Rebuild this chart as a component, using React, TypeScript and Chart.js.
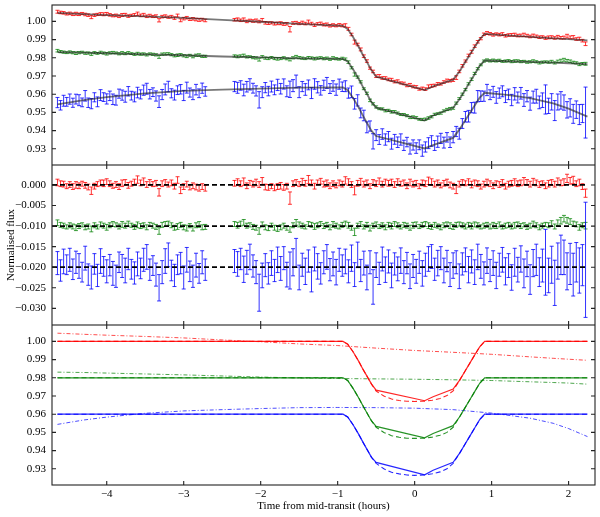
import { useEffect, useRef } from "react";
import { Chart, registerables, type ChartConfiguration, type Plugin } from "chart.js";

Chart.register(...registerables);

Chart.defaults.font.family = "'Liberation Serif', 'Times New Roman', serif";
Chart.defaults.font.size = 11;
Chart.defaults.color = "#000";

// time of each exposure (hours from mid-transit)
const times = [
  -4.64, -4.6, -4.56, -4.52, -4.48, -4.44, -4.4, -4.36, -4.32, -4.28,
  -4.24, -4.2, -4.16, -4.12, -4.08, -4.04, -4.0, -3.96, -3.92, -3.88,
  -3.84, -3.8, -3.76, -3.72, -3.68, -3.64, -3.6, -3.56, -3.52, -3.48,
  -3.44, -3.4, -3.36, -3.32, -3.28, -3.24, -3.2, -3.16, -3.12, -3.08,
  -3.04, -3.0, -2.96, -2.92, -2.88, -2.84, -2.8, -2.76, -2.72,
  -2.34, -2.3, -2.26, -2.22, -2.18, -2.14, -2.1, -2.06, -2.02, -1.98,
  -1.94, -1.9, -1.86, -1.82, -1.78, -1.74, -1.7, -1.66, -1.62, -1.58,
  -1.54, -1.5, -1.46, -1.42, -1.38, -1.34, -1.3, -1.26, -1.22, -1.18,
  -1.14, -1.1, -1.06, -1.02, -0.98, -0.94, -0.9, -0.86, -0.82, -0.78,
  -0.74, -0.7, -0.66, -0.62, -0.58, -0.54, -0.5, -0.46, -0.42, -0.38,
  -0.34, -0.3, -0.26, -0.22, -0.18, -0.14, -0.1, -0.06, -0.02, 0.02,
  0.06, 0.1, 0.14, 0.18, 0.22, 0.26, 0.3, 0.34, 0.38, 0.42,
  0.46, 0.5, 0.54, 0.58, 0.62, 0.66, 0.7, 0.74, 0.78, 0.82,
  0.86, 0.9, 0.94, 0.98, 1.02, 1.06, 1.1, 1.14, 1.18, 1.22,
  1.26, 1.3, 1.34, 1.38, 1.42, 1.46, 1.5, 1.54, 1.58, 1.62,
  1.66, 1.7, 1.74, 1.78, 1.82, 1.86, 1.9, 1.94, 1.98, 2.02,
  2.06, 2.1, 2.14, 2.18, 2.22,
];

// normalised flux, top panel
const redFlux = [
  1.0053, 1.0049, 1.0047, 1.0041, 1.0044, 1.0039, 1.0042, 1.0039, 1.0043, 1.0038,
  1.0034, 1.0024, 1.0034, 1.0038, 1.0041, 1.0039, 1.0042, 1.0036, 1.0031, 1.0033,
  1.0028, 1.0035, 1.0037, 1.0029, 1.0033, 1.0036, 1.0042, 1.0033, 1.0036, 1.0028,
  1.0032, 1.0027, 1.0029, 1.0006, 1.0026, 1.0029, 1.0023, 1.0026, 1.0018, 1.0032,
  1.0006, 1.0015, 1.002, 1.0011, 1.0014, 1.001, 1.0008, 1.001, 1.0005,
  1.0009, 1.0011, 1.0006, 1.001, 1.0, 1.0006, 1.0002, 1.0005, 0.9999, 1.0007,
  0.9992, 0.999, 0.9992, 0.9987, 0.9989, 0.999, 0.9985, 0.9987, 0.9957, 0.9991,
  0.9993, 0.9988, 0.9993, 0.9988, 0.9997, 0.9988, 0.9979, 0.9987, 0.9989, 0.9982,
  0.9983, 0.9976, 0.998, 0.9976, 0.9981, 0.9977, 0.9978, 0.9959, 0.9928, 0.9886,
  0.9873, 0.9846, 0.9809, 0.9782, 0.9743, 0.9725, 0.9699, 0.97, 0.9689, 0.9689,
  0.9681, 0.9679, 0.9669, 0.9672, 0.9662, 0.9659, 0.9648, 0.9651, 0.9642, 0.964,
  0.9628, 0.9632, 0.9628, 0.9642, 0.9646, 0.9648, 0.9657, 0.9656, 0.9667, 0.9675,
  0.9674, 0.9677, 0.9691, 0.9725, 0.9756, 0.9782, 0.9813, 0.9833, 0.9864, 0.9888,
  0.9905, 0.9929, 0.9936, 0.9932, 0.9926, 0.9931, 0.9927, 0.993, 0.9921, 0.9925,
  0.9926, 0.9927, 0.9922, 0.9923, 0.9926, 0.9922, 0.9917, 0.9922, 0.9918, 0.9913,
  0.9915, 0.9908, 0.9912, 0.9914, 0.9909, 0.9915, 0.991, 0.9911, 0.9919, 0.9912,
  0.9913, 0.9903, 0.9905, 0.9894, 0.9877,
];
const greenFlux = [
  0.9839, 0.9834, 0.9831, 0.9828, 0.9832, 0.9828, 0.9825, 0.9828, 0.9831, 0.9825,
  0.9826, 0.982, 0.9828, 0.9824, 0.983, 0.9826, 0.9822, 0.9827, 0.9829, 0.9827,
  0.9822, 0.9827, 0.9823, 0.9828, 0.9823, 0.9819, 0.9823, 0.982, 0.9821, 0.9816,
  0.9822, 0.9819, 0.9816, 0.9805, 0.982, 0.9821, 0.9823, 0.9817, 0.9811, 0.9814,
  0.9817, 0.9811, 0.9808, 0.9814, 0.9806, 0.9814, 0.9815, 0.9808, 0.9808,
  0.981, 0.9807, 0.981, 0.9813, 0.9805, 0.9806, 0.9801, 0.9799, 0.979, 0.9806,
  0.9798, 0.9796, 0.9802, 0.9796, 0.9794, 0.9796, 0.98, 0.9794, 0.979, 0.98,
  0.9806, 0.9801, 0.9798, 0.9795, 0.9801, 0.9799, 0.9795, 0.9798, 0.9801, 0.9795,
  0.9798, 0.9792, 0.9799, 0.9795, 0.9792, 0.9797, 0.9793, 0.9776, 0.9745, 0.9708,
  0.9694, 0.9668, 0.963, 0.9605, 0.9566, 0.9547, 0.953, 0.952, 0.9519, 0.9509,
  0.9511, 0.9503, 0.9504, 0.9496, 0.9488, 0.9488, 0.9482, 0.9472, 0.9474, 0.9471,
  0.9462, 0.9461, 0.9463, 0.9469, 0.9476, 0.9489, 0.9493, 0.9496, 0.9508, 0.9516,
  0.952, 0.9523, 0.9551, 0.9576, 0.96, 0.9625, 0.9657, 0.9682, 0.9714, 0.974,
  0.9761, 0.9782, 0.9788, 0.9783, 0.9786, 0.9783, 0.9786, 0.978, 0.9782, 0.9784,
  0.9779, 0.9782, 0.9783, 0.9779, 0.9781, 0.9776, 0.9778, 0.9782, 0.9778, 0.9772,
  0.9776, 0.9778, 0.9776, 0.9779, 0.9772, 0.978, 0.9784, 0.9789, 0.9784, 0.9781,
  0.9775, 0.9772, 0.9764, 0.9768, 0.9767,
];
const blueFlux = [
  0.9554, 0.9539, 0.9564, 0.9558, 0.9573, 0.9553, 0.9573, 0.9567, 0.9555, 0.9591,
  0.9553, 0.9548, 0.9583, 0.9558, 0.9595, 0.9584, 0.9574, 0.9591, 0.9572, 0.9567,
  0.9603, 0.9595, 0.9586, 0.9616, 0.9592, 0.9585, 0.9609, 0.9599, 0.9622, 0.963,
  0.96, 0.9611, 0.959, 0.9559, 0.9598, 0.9626, 0.9642, 0.9605, 0.9595, 0.9622,
  0.9627, 0.9593, 0.9636, 0.9609, 0.9597, 0.9625, 0.9605, 0.9633, 0.9615,
  0.9642, 0.9635, 0.9648, 0.9623, 0.9641, 0.9654, 0.9633, 0.9618, 0.9569, 0.9611,
  0.9636, 0.9617, 0.9642, 0.9624, 0.9651, 0.963, 0.9656, 0.9616, 0.9627, 0.9647,
  0.967, 0.9611, 0.9642, 0.9626, 0.9651, 0.9606, 0.9656, 0.9638, 0.9621, 0.9649,
  0.9662, 0.9631, 0.9645, 0.9625, 0.9655, 0.9641, 0.9644, 0.9606, 0.9613, 0.9547,
  0.9566, 0.9497, 0.9483, 0.9418, 0.9425, 0.9341, 0.9375, 0.9351, 0.9381, 0.9351,
  0.9367, 0.9328, 0.9352, 0.9336, 0.9351, 0.9319, 0.9337, 0.9301, 0.9321, 0.9304,
  0.9322, 0.929, 0.931, 0.9331, 0.9343, 0.9318, 0.9339, 0.9357, 0.9334, 0.9363,
  0.9336, 0.9364, 0.9395, 0.9383, 0.9439, 0.9476, 0.9479, 0.9526, 0.9526, 0.9589,
  0.9589, 0.9589, 0.9623, 0.9597, 0.9613, 0.9582, 0.9606, 0.9616, 0.9587, 0.9599,
  0.9568, 0.9602, 0.9582, 0.9605, 0.9568, 0.9589, 0.9548, 0.9584, 0.9589, 0.9555,
  0.9567, 0.9571, 0.9536, 0.9558, 0.951, 0.9557, 0.9566, 0.9554, 0.9514, 0.9525,
  0.9492, 0.9515, 0.9488, 0.9494, 0.9499,
];

// residuals, middle panel (drawn around 0, -0.01, -0.02)
const redResid = [
  0.0006, 0.0003, 0.0002, -0.0003, 0.0001, -0.0004, 0.0, -0.0002, 0.0003, -0.0001,
  -0.0005, -0.0014, -0.0003, 0.0002, 0.0005, 0.0004, 0.0008, 0.0003, -0.0002, 0.0001,
  -0.0004, 0.0004, 0.0006, -0.0001, 0.0003, 0.0007, 0.0013, 0.0005, 0.0009, 0.0001,
  0.0006, 0.0002, 0.0004, -0.0018, 0.0003, 0.0006, 0.0001, 0.0005, -0.0003, 0.0012,
  -0.0013, -0.0004, 0.0002, -0.0006, -0.0002, -0.0005, -0.0007, -0.0004, -0.0008,
  0.0004, 0.0007, 0.0003, 0.0008, -0.0002, 0.0005, 0.0002, 0.0006, 0.0001, 0.0009,
  -0.0005, -0.0006, -0.0003, -0.0007, -0.0004, -0.0002, -0.0006, -0.0003, -0.0032, 0.0003,
  0.0006, 0.0002, 0.0008, 0.0004, 0.0013, 0.0005, -0.0003, 0.0006, 0.0009, 0.0002,
  0.0004, -0.0002, 0.0003, -0.0001, 0.0005, 0.0002, 0.0011, 0.0007, 0.0001, -0.0013,
  0.0004, 0.0008, 0.0002, 0.0005, -0.0003, 0.0006, 0.0003, 0.0009, 0.0002, 0.0007,
  0.0004, 0.0006, 0.0001, 0.0008, 0.0003, 0.0005, -0.0002, 0.0006, 0.0002, 0.0004,
  -0.0003, 0.0005, 0.0003, 0.001, 0.0007, 0.0002, 0.0005, -0.0001, 0.0004, 0.0006,
  0.0, -0.0003, -0.0011, 0.0002, 0.0006, 0.0004, 0.0008, 0.0001, 0.0005, 0.0003,
  -0.0004, 0.0002, 0.0006, 0.0003, -0.0002, 0.0004, 0.0001, 0.0005, -0.0003, 0.0002,
  0.0004, 0.0007, 0.0003, 0.0005, 0.0009, 0.0006, 0.0002, 0.0008, 0.0005, 0.0001,
  0.0004, -0.0002, 0.0003, 0.0006, 0.0002, 0.0009, 0.0005, 0.0007, 0.0016, 0.001,
  0.0012, 0.0003, 0.0006, -0.0004, -0.002,
];
const greenResid = [
  0.0008, 0.0003, 0.0001, -0.0002, 0.0002, -0.0001, -0.0004, 0.0, 0.0003, -0.0003,
  -0.0001, -0.0007, 0.0002, -0.0002, 0.0004, 0.0001, -0.0003, 0.0002, 0.0005, 0.0003,
  -0.0001, 0.0004, 0.0001, 0.0006, 0.0002, -0.0002, 0.0003, 0.0, 0.0002, -0.0003,
  0.0004, 0.0001, -0.0002, -0.0012, 0.0003, 0.0005, 0.0007, 0.0002, -0.0004, -0.0001,
  0.0003, -0.0003, -0.0005, 0.0001, -0.0006, 0.0002, 0.0004, -0.0003, -0.0002,
  0.0005, 0.0002, 0.0006, 0.0009, 0.0001, 0.0003, -0.0002, -0.0004, -0.0012, 0.0004,
  -0.0003, -0.0005, 0.0002, -0.0004, -0.0006, -0.0003, 0.0001, -0.0005, -0.0008, 0.0002,
  0.0009, 0.0004, 0.0001, -0.0002, 0.0005, 0.0003, -0.0001, 0.0002, 0.0006, 0.0,
  0.0003, -0.0003, 0.0004, 0.0001, -0.0002, 0.0003, 0.0006, 0.0002, -0.0004, -0.0014,
  0.0001, 0.0005, -0.0002, 0.0003, -0.0005, 0.0001, 0.0004, -0.0001, 0.0002, -0.0003,
  0.0003, 0.0, 0.0005, 0.0002, -0.0002, 0.0003, 0.0001, -0.0004, 0.0002, 0.0004,
  -0.0001, 0.0003, 0.0005, 0.0001, -0.0002, 0.0003, 0.0, -0.0003, 0.0002, 0.0004,
  0.0001, -0.0002, 0.0003, 0.0005, 0.0002, -0.0001, 0.0003, 0.0, 0.0004, 0.0002,
  -0.0002, 0.0001, 0.0003, -0.0001, 0.0002, 0.0, 0.0004, -0.0002, 0.0001, 0.0003,
  -0.0001, 0.0002, 0.0004, 0.0, 0.0003, -0.0002, 0.0001, 0.0005, 0.0002, -0.0003,
  0.0001, 0.0004, 0.0002, 0.0006, -0.0001, 0.0008, 0.0013, 0.0018, 0.0014, 0.0011,
  0.0006, 0.0004, -0.0003, 0.0002, 0.0001,
];
const blueResid = [
  0.001, -0.0008, 0.0014, 0.0006, 0.0018, -0.0005, 0.0012, 0.0003, -0.0012, 0.0022,
  -0.0018, -0.0025, 0.0008, -0.002, 0.0015, 0.0002, -0.001, 0.0005, -0.0015, -0.0022,
  0.0012, 0.0003, -0.0008, 0.002, -0.0005, -0.0014, 0.0008, -0.0003, 0.0018, 0.0025,
  -0.0006, 0.0004, -0.0018, -0.005, -0.0012, 0.0015, 0.003, -0.0008, -0.002, 0.0006,
  0.001, -0.0025, 0.0018, -0.001, -0.0022, 0.0005, -0.0015, 0.0012, -0.0006,
  0.0015, 0.0008, 0.002, -0.0005, 0.0012, 0.0025, 0.0003, -0.0012, -0.0062, -0.002,
  0.0005, -0.0015, 0.001, -0.0008, 0.0018, -0.0003, 0.0022, -0.0018, -0.0008, 0.0012,
  0.0035, -0.0025, 0.0006, -0.001, 0.0015, -0.003, 0.002, 0.0002, -0.0015, 0.0012,
  0.0025, -0.0006, 0.0008, -0.0012, 0.0018, 0.0004, 0.0014, -0.001, 0.0022, -0.0018,
  0.003, -0.0008, 0.001, -0.0025, 0.0012, -0.0048, 0.0005, -0.0015, 0.002, -0.0006,
  0.0014, -0.002, 0.0008, -0.0004, 0.0016, -0.0012, 0.001, -0.0022, 0.0003, -0.001,
  0.0012, -0.0015, 0.0006, 0.002, 0.0026, -0.0005, 0.001, 0.0022, -0.0008, 0.0015,
  -0.0018, 0.0004, 0.0012, -0.0022, 0.0008, 0.0018, -0.0006, 0.0014, -0.0012, 0.0025,
  0.0002, -0.0015, 0.0016, -0.0008, 0.001, -0.002, 0.0006, 0.0018, -0.001, 0.0004,
  -0.0025, 0.0012, -0.0006, 0.002, -0.0015, 0.0008, -0.003, 0.001, 0.0018, -0.0012,
  0.0004, 0.0012, -0.002, 0.0006, -0.0038, 0.0015, 0.003, 0.0024, -0.001, 0.0008,
  -0.0018, 0.0012, -0.0008, 0.0005, 0.0018,
];

// 1-sigma uncertainties (shared by flux and residual)
const redErr = [
  0.0008, 0.0007, 0.0007, 0.0006, 0.0007, 0.0007, 0.0008, 0.0007, 0.0006, 0.0007,
  0.0007, 0.0009, 0.0007, 0.0006, 0.0007, 0.0008, 0.0007, 0.0007, 0.0006, 0.0007,
  0.0007, 0.0008, 0.0007, 0.0007, 0.0006, 0.0007, 0.0009, 0.0007, 0.0008, 0.0007,
  0.0007, 0.0006, 0.0007, 0.0009, 0.0007, 0.0007, 0.0006, 0.0007, 0.0007, 0.0008,
  0.0008, 0.0007, 0.0007, 0.0006, 0.0007, 0.0007, 0.0008, 0.0007, 0.0007,
  0.0007, 0.0008, 0.0007, 0.0009, 0.0007, 0.0006, 0.0007, 0.0008, 0.0007, 0.0009,
  0.0007, 0.0007, 0.0006, 0.0007, 0.0007, 0.0008, 0.0007, 0.0007, 0.0015, 0.0007,
  0.0007, 0.0006, 0.0008, 0.0007, 0.001, 0.0007, 0.0007, 0.0006, 0.0007, 0.0007,
  0.0008, 0.0007, 0.0007, 0.0006, 0.0007, 0.0007, 0.0009, 0.0008, 0.0007, 0.0011,
  0.0007, 0.0008, 0.0007, 0.0007, 0.0006, 0.0007, 0.0007, 0.0008, 0.0007, 0.0007,
  0.0007, 0.0008, 0.0007, 0.0007, 0.0006, 0.0007, 0.0007, 0.0008, 0.0007, 0.0007,
  0.0006, 0.0007, 0.0007, 0.0009, 0.0008, 0.0007, 0.0007, 0.0006, 0.0007, 0.0008,
  0.0007, 0.0007, 0.001, 0.0007, 0.0007, 0.0006, 0.0007, 0.0008, 0.0007, 0.0007,
  0.0006, 0.0007, 0.0008, 0.0007, 0.0007, 0.0006, 0.0007, 0.0008, 0.0007, 0.0007,
  0.0007, 0.0008, 0.0007, 0.0007, 0.0009, 0.0007, 0.0007, 0.0008, 0.0007, 0.0007,
  0.0006, 0.0007, 0.0008, 0.0007, 0.0007, 0.0008, 0.0007, 0.0008, 0.001, 0.0008,
  0.0009, 0.0007, 0.0008, 0.0007, 0.001,
];
const greenErr = [
  0.0007, 0.0006, 0.0006, 0.0005, 0.0006, 0.0006, 0.0007, 0.0006, 0.0005, 0.0006,
  0.0006, 0.0007, 0.0006, 0.0005, 0.0006, 0.0006, 0.0007, 0.0006, 0.0006, 0.0005,
  0.0006, 0.0007, 0.0006, 0.0006, 0.0005, 0.0006, 0.0007, 0.0006, 0.0006, 0.0006,
  0.0005, 0.0006, 0.0006, 0.0008, 0.0006, 0.0006, 0.0005, 0.0006, 0.0006, 0.0007,
  0.0006, 0.0006, 0.0007, 0.0005, 0.0006, 0.0006, 0.0007, 0.0006, 0.0006,
  0.0006, 0.0007, 0.0006, 0.0007, 0.0006, 0.0005, 0.0006, 0.0006, 0.0008, 0.0006,
  0.0006, 0.0006, 0.0005, 0.0006, 0.0007, 0.0006, 0.0006, 0.0005, 0.0007, 0.0006,
  0.0007, 0.0006, 0.0006, 0.0005, 0.0006, 0.0006, 0.0007, 0.0006, 0.0005, 0.0006,
  0.0006, 0.0006, 0.0007, 0.0006, 0.0005, 0.0006, 0.0006, 0.0007, 0.0006, 0.0009,
  0.0006, 0.0006, 0.0005, 0.0006, 0.0007, 0.0006, 0.0006, 0.0005, 0.0006, 0.0006,
  0.0006, 0.0007, 0.0006, 0.0006, 0.0005, 0.0006, 0.0006, 0.0006, 0.0007, 0.0006,
  0.0005, 0.0006, 0.0006, 0.0007, 0.0006, 0.0006, 0.0005, 0.0006, 0.0006, 0.0006,
  0.0007, 0.0006, 0.0006, 0.0005, 0.0006, 0.0006, 0.0006, 0.0007, 0.0006, 0.0006,
  0.0005, 0.0006, 0.0006, 0.0006, 0.0007, 0.0006, 0.0006, 0.0005, 0.0006, 0.0006,
  0.0006, 0.0007, 0.0006, 0.0006, 0.0005, 0.0006, 0.0006, 0.0007, 0.0006, 0.0006,
  0.0006, 0.0005, 0.0006, 0.0007, 0.0006, 0.0007, 0.0008, 0.0008, 0.0007, 0.0007,
  0.0006, 0.0006, 0.0007, 0.0006, 0.0008,
];
const blueErr = [
  0.0028, 0.0026, 0.003, 0.0024, 0.0028, 0.0025, 0.0027, 0.003, 0.0024, 0.0029,
  0.0026, 0.0028, 0.0025, 0.0027, 0.003, 0.0024, 0.0028, 0.0026, 0.0029, 0.0027,
  0.0025, 0.0028, 0.003, 0.0026, 0.0024, 0.0027, 0.0029, 0.0025, 0.0028, 0.003,
  0.0026, 0.0024, 0.0028, 0.0032, 0.0028, 0.003, 0.0029, 0.0025, 0.0027, 0.0024,
  0.0026, 0.0028, 0.003, 0.0025, 0.0027, 0.0029, 0.0024, 0.0028, 0.0026,
  0.0028, 0.003, 0.0026, 0.0032, 0.0029, 0.0031, 0.0027, 0.0028, 0.0045, 0.003,
  0.0028, 0.0026, 0.003, 0.0027, 0.0031, 0.0029, 0.0028, 0.003, 0.0045, 0.0033,
  0.0035, 0.003, 0.0028, 0.0032, 0.0027, 0.003, 0.0029, 0.0031, 0.0026, 0.0028,
  0.003, 0.0027, 0.0029, 0.0031, 0.0028, 0.0026, 0.003, 0.0028, 0.0032, 0.0029,
  0.0031, 0.0027, 0.0029, 0.003, 0.0028, 0.0042, 0.003, 0.0027, 0.0029, 0.0031,
  0.0028, 0.003, 0.0027, 0.0029, 0.0031, 0.0028, 0.0026, 0.003, 0.0028, 0.0029,
  0.0027, 0.0031, 0.0028, 0.003, 0.0029, 0.0027, 0.0031, 0.0028, 0.003, 0.0026,
  0.0029, 0.0031, 0.0028, 0.003, 0.0027, 0.0029, 0.0032, 0.0028, 0.003, 0.0031,
  0.0029, 0.0028, 0.0031, 0.0027, 0.003, 0.0032, 0.0028, 0.003, 0.0033, 0.0029,
  0.0031, 0.0034, 0.003, 0.0032, 0.0035, 0.0031, 0.0036, 0.0033, 0.0038, 0.0035,
  0.004, 0.008, 0.0042, 0.0045, 0.0055, 0.0044, 0.0048, 0.0042, 0.0045, 0.005,
  0.0052, 0.0048, 0.0055, 0.005, 0.014,
];

// fitted light-curve model (grey, top panel)
const modelTimes = [
  -4.64, -4.3, -4.0, -3.5, -3.0, -2.5, -2.0, -1.5, -0.93, -0.87,
  -0.8, -0.73, -0.67, -0.61, -0.56, -0.5, 0.13, 0.24, 0.5, 0.585,
  0.65, 0.715, 0.78, 0.845, 0.91, 1.2, 1.5, 1.8, 2.0, 2.245,
];
const redModel = [
  1.0047, 1.004, 1.0034, 1.0027, 1.0019, 1.0008, 0.9998, 0.9986, 0.9975, 0.9958,
  0.9914, 0.9862, 0.9814, 0.9769, 0.9731, 0.9696, 0.9623, 0.9643, 0.968, 0.9726,
  0.9771, 0.9815, 0.9859, 0.9902, 0.9931, 0.9923, 0.9915, 0.9907, 0.9902, 0.9896,
];
const greenModel = [
  0.9831, 0.9828, 0.9825, 0.9819, 0.9814, 0.9807, 0.9802, 0.9797, 0.9794, 0.978,
  0.9737, 0.9686, 0.9639, 0.9594, 0.9556, 0.9526, 0.9455, 0.9483, 0.9525, 0.9574,
  0.9619, 0.9665, 0.971, 0.9756, 0.9785, 0.9781, 0.9777, 0.9773, 0.977, 0.9765,
];
const blueModel = [
  0.9544, 0.9568, 0.9584, 0.9605, 0.9618, 0.9625, 0.9631, 0.9636, 0.9637, 0.9622,
  0.9579, 0.9529, 0.9481, 0.9435, 0.9398, 0.937, 0.9302, 0.932, 0.936, 0.9408,
  0.9451, 0.9495, 0.9538, 0.9581, 0.9608, 0.9596, 0.9578, 0.955, 0.9521, 0.9477,
];

// residual reference levels and their extent
const residLevels = [0, -0.01, -0.02];
const residLineTimes = [-4.711, 2.245];

// transit-only models, bottom panel
const transitTimes = [
  -4.64, -0.93, -0.87, -0.8, -0.73, -0.67, -0.61, -0.56, -0.5, 0.13,
  0.24, 0.5, 0.585, 0.65, 0.715, 0.78, 0.845, 0.91, 2.245,
];
const redTransit = [
  1.0, 1.0, 0.9985, 0.9943, 0.9893, 0.9846, 0.9802, 0.9765, 0.9732, 0.9674,
  0.9696, 0.9738, 0.9787, 0.9833, 0.9879, 0.9925, 0.997, 1.0, 1.0,
];
const greenTransit = [
  0.98, 0.98, 0.9785, 0.9742, 0.9692, 0.9645, 0.96, 0.9563, 0.9533, 0.947,
  0.9494, 0.9537, 0.9586, 0.9632, 0.9678, 0.9724, 0.977, 0.98, 0.98,
];
const blueTransit = [
  0.96, 0.96, 0.9585, 0.9542, 0.9492, 0.9445, 0.94, 0.9363, 0.9335, 0.9267,
  0.9292, 0.9336, 0.9386, 0.9432, 0.9478, 0.9524, 0.957, 0.96, 0.96,
];
const limbTimes = [
  -4.64, -0.93, -0.87, -0.8, -0.73, -0.67, -0.61, -0.56, -0.5, -0.4,
  -0.3, -0.2, -0.1, 0.0, 0.13, 0.23, 0.33, 0.42, 0.5, 0.585,
  0.65, 0.715, 0.78, 0.845, 0.91, 2.245,
];
const redLimb = [
  1.0, 1.0, 0.9985, 0.9943, 0.9893, 0.9846, 0.9802, 0.9765, 0.9727, 0.97,
  0.9683, 0.9675, 0.9671, 0.967, 0.9672, 0.9677, 0.9686, 0.9702, 0.9728, 0.9787,
  0.9833, 0.9879, 0.9925, 0.997, 1.0, 1.0,
];
const greenLimb = [
  0.98, 0.98, 0.9785, 0.9742, 0.9692, 0.9645, 0.96, 0.9563, 0.9528, 0.95,
  0.9482, 0.9473, 0.9468, 0.9467, 0.9468, 0.9474, 0.9484, 0.95, 0.9528, 0.9586,
  0.9632, 0.9678, 0.9724, 0.977, 0.98, 0.98,
];
const blueLimb = [
  0.96, 0.96, 0.9585, 0.9542, 0.9492, 0.9445, 0.94, 0.9363, 0.933, 0.93,
  0.9281, 0.9272, 0.9266, 0.9264, 0.9266, 0.9273, 0.9283, 0.93, 0.933, 0.9386,
  0.9432, 0.9478, 0.9524, 0.957, 0.96, 0.96,
];

// systematics baselines (dash-dot)
const baseTimes = [
  -4.64, -4.3, -4.0, -3.5, -3.0, -2.5, -2.0, -1.5, -1.0, -0.5,
  0.0, 0.5, 1.0, 1.5, 1.8, 2.0, 2.245,
];
const redBase = [
  1.0045, 1.0039, 1.0034, 1.0027, 1.0019, 1.0008, 0.9998, 0.9986, 0.9977, 0.9963,
  0.995, 0.994, 0.9929, 0.9915, 0.9907, 0.9902, 0.9896,
];
const greenBase = [
  0.9831, 0.9829, 0.9826, 0.9821, 0.9816, 0.981, 0.9804, 0.9799, 0.9796, 0.9794,
  0.9792, 0.9789, 0.9785, 0.9778, 0.9774, 0.9771, 0.9765,
];
const blueBase = [
  0.9544, 0.9568, 0.9584, 0.9605, 0.9618, 0.9625, 0.9631, 0.9636, 0.9637, 0.9636,
  0.9633, 0.9625, 0.9606, 0.9578, 0.955, 0.9521, 0.9477,
];

const timeTicks = [-4, -3, -2, -1, 0, 1, 2];
const fluxTicks = [0.93, 0.94, 0.95, 0.96, 0.97, 0.98, 0.99, 1.0];
const residTicks = [0, -0.005, -0.01, -0.015, -0.02, -0.025, -0.03];

const X_MIN = -4.711;
const X_MAX = 2.343;
const AXIS_W = 52;
const CAP = 2;
const TICK = 4;

const pts = (xs: number[], ys: number[], off = 0) =>
  xs.map((x, i) => ({ x, y: ys[i] + off }));

const minus = (s: string) => s.replace("-", "\u2212");

// vertical error bars with caps, drawn under the lines
const errorBars: Plugin = {
  id: "errorBars",
  beforeDatasetsDraw(chart) {
    const { ctx, chartArea: a } = chart;
    ctx.save();
    ctx.beginPath();
    ctx.rect(a.left, a.top, a.right - a.left, a.bottom - a.top);
    ctx.clip();
    ctx.lineWidth = 1;
    chart.data.datasets.forEach((ds: any, i) => {
      if (!ds.errors) return;
      const meta = chart.getDatasetMeta(i);
      const xs = chart.scales[meta.xAxisID as string];
      const ys = chart.scales[meta.yAxisID as string];
      ctx.strokeStyle = ds.errColor;
      (ds.data as { x: number; y: number }[]).forEach((p, j) => {
        const e = ds.errors[j] ?? 0;
        const x = xs.getPixelForValue(p.x);
        const y0 = ys.getPixelForValue(p.y + e);
        const y1 = ys.getPixelForValue(p.y - e);
        ctx.beginPath();
        ctx.moveTo(x, y0);
        ctx.lineTo(x, y1);
        ctx.moveTo(x - CAP, y0);
        ctx.lineTo(x + CAP, y0);
        ctx.moveTo(x - CAP, y1);
        ctx.lineTo(x + CAP, y1);
        ctx.stroke();
      });
    });
    ctx.restore();
  },
};

// matplotlib-like box with inward ticks on all four sides
function frame(yTicks: number[]): Plugin {
  return {
    id: "frame",
    afterDraw(chart) {
      const { ctx, chartArea: a, scales } = chart;
      ctx.save();
      ctx.strokeStyle = "#222";
      ctx.lineWidth = 1.1;
      ctx.strokeRect(a.left, a.top, a.right - a.left, a.bottom - a.top);
      ctx.beginPath();
      timeTicks.forEach((v) => {
        const x = scales.x.getPixelForValue(v);
        ctx.moveTo(x, a.top);
        ctx.lineTo(x, a.top + TICK);
        ctx.moveTo(x, a.bottom);
        ctx.lineTo(x, a.bottom - TICK);
      });
      yTicks.forEach((v) => {
        const y = scales.y.getPixelForValue(v);
        ctx.moveTo(a.left, y);
        ctx.lineTo(a.left + TICK, y);
        ctx.moveTo(a.right, y);
        ctx.lineTo(a.right - TICK, y);
      });
      ctx.stroke();
      ctx.restore();
    },
  };
}

// the scale's own label padding would shrink the plot box, so drop it
const noEdgePadding = (s: any) => {
  s.paddingTop = 0;
  s.paddingBottom = 0;
  s.paddingLeft = 0;
  s.paddingRight = 0;
};

function yAxis(min: number, max: number, ticks: number[], digits: number, title?: string) {
  return {
    type: "linear" as const,
    min,
    max,
    afterFit: (s: any) => {
      s.width = AXIS_W;
      noEdgePadding(s);
    },
    afterBuildTicks: (s: any) => {
      s.ticks = ticks.map((value) => ({ value }));
    },
    grid: { display: false, drawTicks: false },
    border: { display: false },
    ticks: {
      padding: 6,
      autoSkip: false,
      color: "#000",
      callback: (v: any) => minus(Number(v).toFixed(digits)),
    },
    title: title
      ? { display: true, text: title, color: "#000", padding: { top: 5, bottom: 0 } }
      : { display: false },
  };
}

const hiddenX = { type: "linear" as const, min: X_MIN, max: X_MAX, display: false };

function errSet(ys: number[], errs: number[], color: string, off = 0) {
  return {
    data: pts(times, ys, off),
    errors: errs,
    errColor: color,
    pointRadius: 0,
    showLine: false,
  };
}

function lineSet(xs: number[], ys: number[], color: string, width: number, dash: number[] = []) {
  return {
    data: pts(xs, ys),
    showLine: true,
    borderColor: color,
    borderWidth: width,
    borderDash: dash,
    pointRadius: 0,
    tension: 0,
  };
}

function common(padding: any, x: any, y: any) {
  return {
    animation: false as const,
    responsive: true,
    maintainAspectRatio: false,
    events: [],
    layout: { padding },
    plugins: { legend: { display: false }, tooltip: { enabled: false } },
    scales: { x, y },
  };
}

const GREY = "rgba(30,30,30,0.6)";
const RED_BAR = "rgba(255,0,0,0.8)";
const GREEN_BAR = "rgba(0,128,0,0.75)";
const BLUE_BAR = "rgba(0,0,255,0.8)";

function topConfig(): ChartConfiguration {
  return {
    type: "scatter",
    data: {
      datasets: [
        lineSet(modelTimes, redModel, GREY, 1.8),
        lineSet(modelTimes, greenModel, GREY, 1.8),
        lineSet(modelTimes, blueModel, GREY, 1.8),
        errSet(redFlux, redErr, RED_BAR),
        errSet(greenFlux, greenErr, GREEN_BAR),
        errSet(blueFlux, blueErr, BLUE_BAR),
      ] as any,
    },
    options: common({ left: 0, right: 5, top: 5, bottom: 0 }, hiddenX, yAxis(0.9211, 1.009, fluxTicks, 2)) as any,
    plugins: [errorBars, frame(fluxTicks)],
  };
}

function middleConfig(): ChartConfiguration {
  const ref = residLevels.map((lv) =>
    lineSet(residLineTimes, residLineTimes.map(() => lv), "#000", 1.8, [5, 3]),
  );
  return {
    type: "scatter",
    data: {
      datasets: [
        ...ref,
        errSet(redResid, redErr, RED_BAR, residLevels[0]),
        errSet(greenResid, greenErr, GREEN_BAR, residLevels[1]),
        errSet(blueResid, blueErr, BLUE_BAR, residLevels[2]),
      ] as any,
    },
    options: common(
      { left: 0, right: 5, top: 0, bottom: 0 },
      hiddenX,
      yAxis(-0.03405, 0.00485, residTicks, 3, "Normalised flux"),
    ) as any,
    plugins: [errorBars, frame(residTicks)],
  };
}

function bottomConfig(): ChartConfiguration {
  const dashDot = [4, 2, 1, 2];
  const x = {
    type: "linear" as const,
    min: X_MIN,
    max: X_MAX,
    afterFit: (s: any) => {
      s.height = 32;
      noEdgePadding(s);
    },
    afterBuildTicks: (s: any) => {
      s.ticks = timeTicks.map((value) => ({ value }));
    },
    grid: { display: false, drawTicks: false },
    border: { display: false },
    ticks: {
      padding: 3,
      autoSkip: false,
      maxRotation: 0,
      color: "#000",
      callback: (v: any) => minus(String(Number(v))),
    },
    title: {
      display: true,
      text: "Time from mid-transit (hours)",
      color: "#000",
      padding: { top: 0, bottom: 4 },
    },
  };
  return {
    type: "scatter",
    data: {
      datasets: [
        lineSet(limbTimes, redLimb, "rgba(255,0,0,0.85)", 1.1, [5, 3]),
        lineSet(limbTimes, greenLimb, "rgba(0,128,0,0.85)", 1.1, [5, 3]),
        lineSet(limbTimes, blueLimb, "rgba(0,0,255,0.85)", 1.1, [5, 3]),
        lineSet(transitTimes, redTransit, "rgba(255,0,0,0.85)", 1.2),
        lineSet(transitTimes, greenTransit, "rgba(0,128,0,0.85)", 1.2),
        lineSet(transitTimes, blueTransit, "rgba(0,0,255,0.85)", 1.2),
        lineSet(baseTimes, redBase, "rgba(255,0,0,0.7)", 1, dashDot),
        lineSet(baseTimes, greenBase, "rgba(0,128,0,0.7)", 1, dashDot),
        lineSet(baseTimes, blueBase, "rgba(0,0,255,0.7)", 1, dashDot),
      ] as any,
    },
    options: common({ left: 0, right: 5, top: 0, bottom: 0 }, x, yAxis(0.9211, 1.009, fluxTicks, 2)) as any,
    plugins: [frame(fluxTicks)],
  };
}

function Panel({ top, height, make }: { top: number; height: number; make: () => ChartConfiguration }) {
  const canvasRef = useRef<HTMLCanvasElement>(null);

  useEffect(() => {
    const canvas = canvasRef.current;
    if (!canvas) return;
    const chart = new Chart(canvas, make());
    return () => {
      chart.destroy();
    };
  }, [make]);

  return (
    <div style={{ position: "absolute", left: 0, top, width: 600, height }}>
      <canvas ref={canvasRef} />
    </div>
  );
}

export default function App() {
  return (
    <div style={{ position: "absolute", left: 0, top: 0, width: 600, height: 517, background: "#fff" }}>
      <Panel top={0} height={165} make={topConfig} />
      <Panel top={165} height={160} make={middleConfig} />
      <Panel top={325} height={192} make={bottomConfig} />
    </div>
  );
}
